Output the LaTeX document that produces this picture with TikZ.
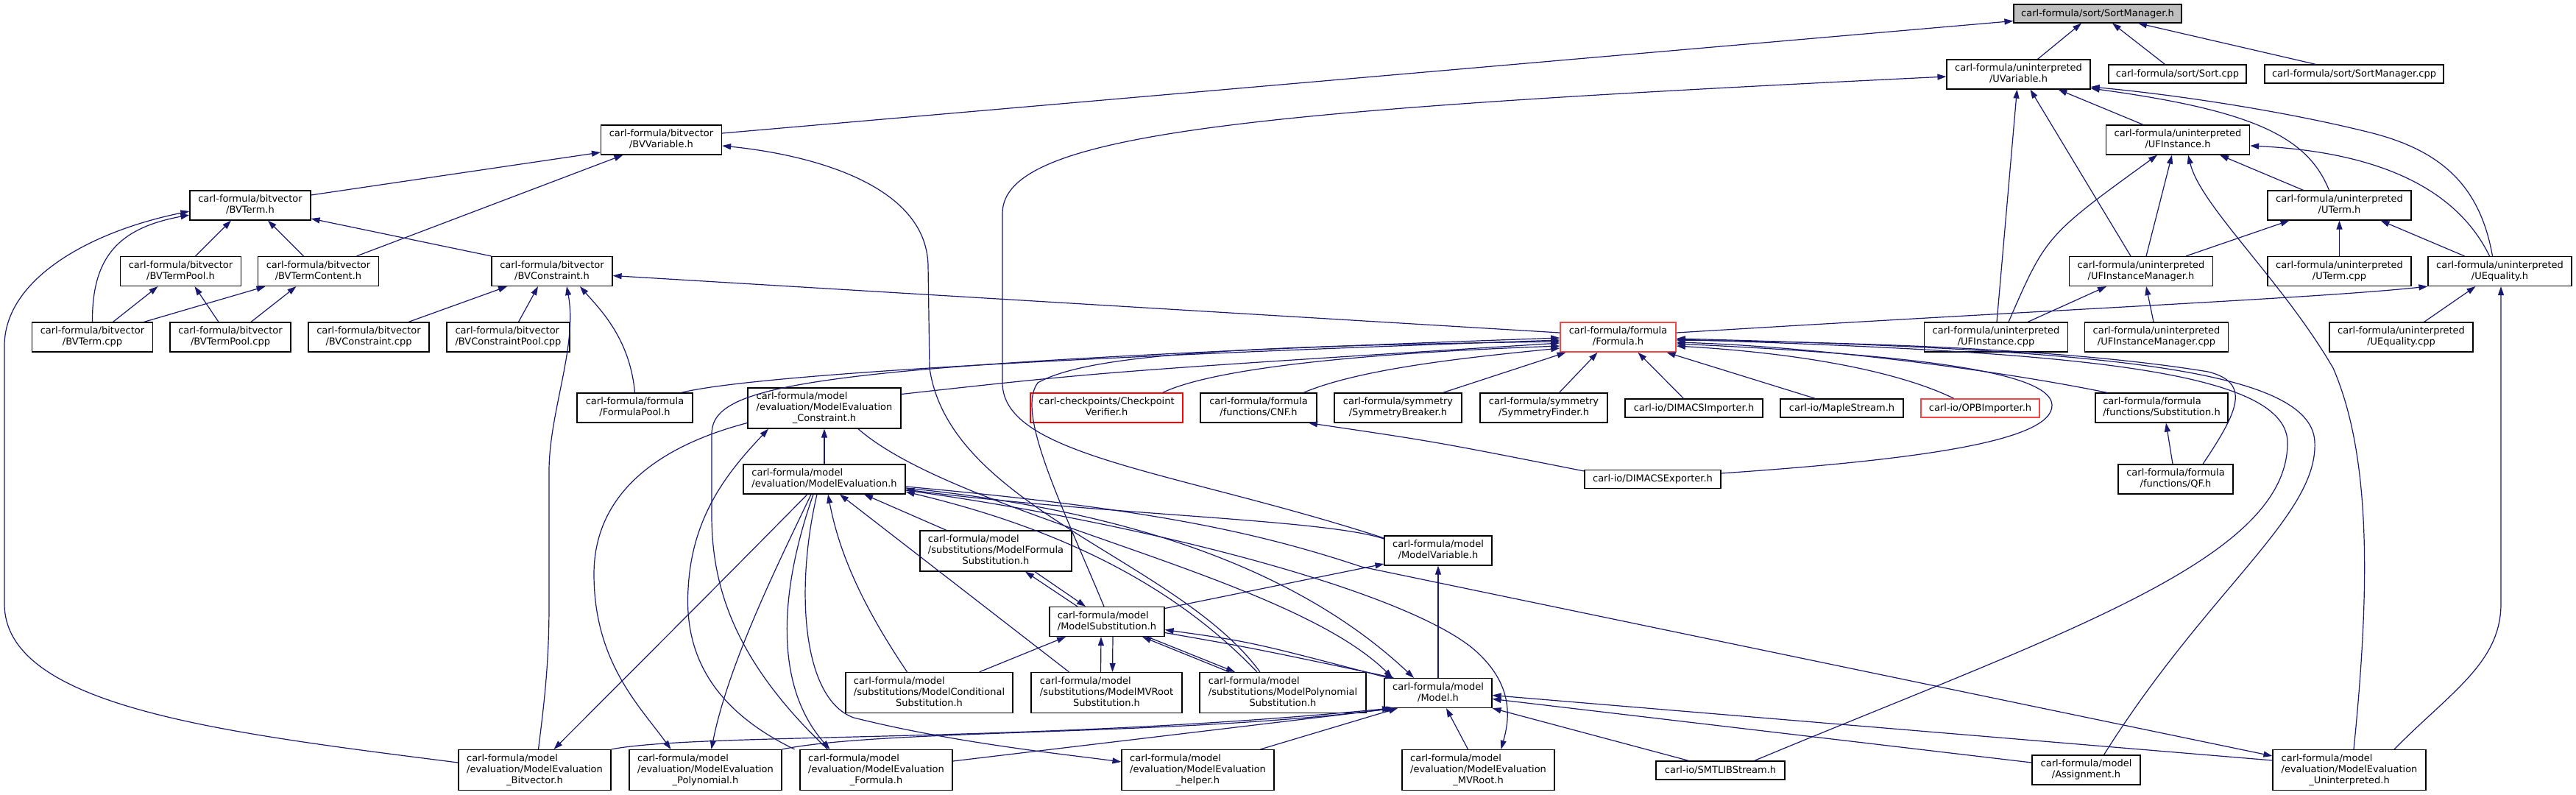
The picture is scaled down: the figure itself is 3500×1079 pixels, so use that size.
\documentclass[tikz,border=0pt]{standalone}
\usepackage{fontspec}
\setmainfont{DejaVu Sans}
\usetikzlibrary{arrows.meta}
\definecolor{edgec}{RGB}{25,25,112}
\definecolor{redc}{RGB}{245,70,70}
\definecolor{grayfill}{RGB}{191,191,191}
\newcommand\nlab[2]{\begin{tabular}{@{}l@{}}#1\\\multicolumn{1}{@{}c@{}}{#2}\end{tabular}}
\begin{document}
\begin{tikzpicture}[x=1pt,y=-1pt,
  box/.style={draw=black, line width=1.2pt, fill=white, inner sep=0pt, align=center, font=\fontsize{13}{15}\selectfont},
  redbox/.style={box, draw=redc, line width=1.6pt},
  e/.style={draw=edgec, line width=1.2pt, -{Triangle[length=12pt,width=8pt]}}]
\fill[white] (0,0) rectangle (3500,1079);
\useasboundingbox (0,0) rectangle (3500,1079);
% ---------- nodes ----------
\node[box, fill=grayfill, minimum width=228, minimum height=25] (SortMgrH) at (2850,18.5) {carl-formula/sort/SortManager.h};
\node[box, minimum width=195, minimum height=40] (UVar) at (2742.5,101) {\nlab{carl-formula/uninterpreted}{/UVariable.h}};
\node[box, minimum width=187, minimum height=25] (SortCpp) at (2958.5,100.5) {carl-formula/sort/Sort.cpp};
\node[box, minimum width=243, minimum height=25] (SortMgrCpp) at (3198.5,100.5) {carl-formula/sort/SortManager.cpp};
\node[box, minimum width=164, minimum height=40] (BVVar) at (898.5,190) {\nlab{carl-formula/bitvector}{/BVVariable.h}};
\node[box, minimum width=195, minimum height=40] (UFInstH) at (2959,190) {\nlab{carl-formula/uninterpreted}{/UFInstance.h}};
\node[box, minimum width=164, minimum height=40] (BVTermH) at (340,279) {\nlab{carl-formula/bitvector}{/BVTerm.h}};
\node[box, minimum width=195, minimum height=40] (UTermH) at (3178.5,279) {\nlab{carl-formula/uninterpreted}{/UTerm.h}};
\node[box, minimum width=164, minimum height=40] (BVTermPoolH) at (245.5,368.5) {\nlab{carl-formula/bitvector}{/BVTermPool.h}};
\node[box, minimum width=164, minimum height=40] (BVTermContentH) at (432.5,368.5) {\nlab{carl-formula/bitvector}{/BVTermContent.h}};
\node[box, minimum width=164, minimum height=40] (BVConsH) at (750,368.5) {\nlab{carl-formula/bitvector}{/BVConstraint.h}};
\node[box, minimum width=195, minimum height=40] (UFIMgrH) at (2909,368.5) {\nlab{carl-formula/uninterpreted}{/UFInstanceManager.h}};
\node[box, minimum width=195, minimum height=40] (UTermCpp) at (3178.5,368.5) {\nlab{carl-formula/uninterpreted}{/UTerm.cpp}};
\node[box, minimum width=195, minimum height=40] (UEqH) at (3396.5,368.5) {\nlab{carl-formula/uninterpreted}{/UEquality.h}};
\node[box, minimum width=164, minimum height=40] (BVTermCpp) at (125.5,458) {\nlab{carl-formula/bitvector}{/BVTerm.cpp}};
\node[box, minimum width=164, minimum height=40] (BVTermPoolCpp) at (313,458) {\nlab{carl-formula/bitvector}{/BVTermPool.cpp}};
\node[box, minimum width=164, minimum height=40] (BVConsCpp) at (501,458) {\nlab{carl-formula/bitvector}{/BVConstraint.cpp}};
\node[box, minimum width=167, minimum height=40] (BVConsPoolCpp) at (690.5,458) {\nlab{carl-formula/bitvector}{/BVConstraintPool.cpp}};
\node[redbox, minimum width=157, minimum height=40] (FormulaH) at (2198.5,458) {\nlab{carl-formula/formula}{/Formula.h}};
\node[box, minimum width=195, minimum height=40] (UFInstCpp) at (2712,458) {\nlab{carl-formula/uninterpreted}{/UFInstance.cpp}};
\node[box, minimum width=195, minimum height=40] (UFIMgrCpp) at (2930,458) {\nlab{carl-formula/uninterpreted}{/UFInstanceManager.cpp}};
\node[box, minimum width=195, minimum height=40] (UEqCpp) at (3262.5,458) {\nlab{carl-formula/uninterpreted}{/UEquality.cpp}};
\node[box, minimum width=157, minimum height=40] (FormulaPool) at (862.5,554) {\nlab{carl-formula/formula}{/FormulaPool.h}};
\node[box, minimum width=208, minimum height=55] (MECons) at (1120,554.5) {\nlab{carl-formula/model\\/evaluation/ModelEvaluation}{\_Constraint.h}};
\node[redbox, draw=red, line width=1.2pt, minimum width=207, minimum height=40] (Checkpoint) at (1503.5,554) {\nlab{carl-checkpoints/Checkpoint}{Verifier.h}};
\node[box, minimum width=158, minimum height=40] (CNF) at (1710,554) {\nlab{carl-formula/formula}{/functions/CNF.h}};
\node[box, minimum width=173, minimum height=40] (SymBreaker) at (1899.5,554) {\nlab{carl-formula/symmetry}{/SymmetryBreaker.h}};
\node[box, minimum width=173, minimum height=40] (SymFinder) at (2097.5,554) {\nlab{carl-formula/symmetry}{/SymmetryFinder.h}};
\node[box, minimum width=187, minimum height=25] (DIMACSImp) at (2301.5,554.5) {carl-io/DIMACSImporter.h};
\node[box, minimum width=167, minimum height=25] (Maple) at (2502.5,554.5) {carl-io/MapleStream.h};
\node[redbox, minimum width=161, minimum height=25] (OPB) at (2690.5,554.5) {carl-io/OPBImporter.h};
\node[box, minimum width=180, minimum height=40] (SubstH) at (2937,554) {\nlab{carl-formula/formula}{/functions/Substitution.h}};
\node[box, minimum width=220, minimum height=40] (MEvalH) at (1120,651) {\nlab{carl-formula/model}{/evaluation/ModelEvaluation.h}};
\node[box, minimum width=185, minimum height=25] (DIMACSExp) at (2245.5,651) {carl-io/DIMACSExporter.h};
\node[box, minimum width=156, minimum height=40] (QF) at (2956,651) {\nlab{carl-formula/formula}{/functions/QF.h}};
\node[box, minimum width=206, minimum height=55] (MFSubst) at (1353,748.5) {\nlab{carl-formula/model\\/substitutions/ModelFormula}{Substitution.h}};
\node[box, minimum width=146, minimum height=40] (ModelVar) at (1954,748) {\nlab{carl-formula/model}{/ModelVariable.h}};
\node[box, minimum width=156, minimum height=40] (MSubst) at (1504,844.5) {\nlab{carl-formula/model}{/ModelSubstitution.h}};
\node[box, minimum width=227, minimum height=55] (MCondSubst) at (1262.5,941) {\nlab{carl-formula/model\\/substitutions/ModelConditional}{Substitution.h}};
\node[box, minimum width=205, minimum height=55] (MMVRootSubst) at (1503.5,941) {\nlab{carl-formula/model\\/substitutions/ModelMVRoot}{Substitution.h}};
\node[box, minimum width=226, minimum height=55] (MPolySubst) at (1743,941) {\nlab{carl-formula/model\\/substitutions/ModelPolynomial}{Substitution.h}};
\node[box, minimum width=146, minimum height=40] (ModelH) at (1954,941.5) {\nlab{carl-formula/model}{/Model.h}};
\node[box, minimum width=207, minimum height=55] (MEBitvector) at (726.5,1046) {\nlab{carl-formula/model\\/evaluation/ModelEvaluation}{\_Bitvector.h}};
\node[box, minimum width=207, minimum height=55] (MEPolynomial) at (958.5,1046) {\nlab{carl-formula/model\\/evaluation/ModelEvaluation}{\_Polynomial.h}};
\node[box, minimum width=207, minimum height=55] (MEFormula) at (1190.5,1046) {\nlab{carl-formula/model\\/evaluation/ModelEvaluation}{\_Formula.h}};
\node[box, minimum width=207, minimum height=55] (MEHelper) at (1627.5,1046) {\nlab{carl-formula/model\\/evaluation/ModelEvaluation}{\_helper.h}};
\node[box, minimum width=207, minimum height=55] (MEMVRoot) at (2008.5,1046) {\nlab{carl-formula/model\\/evaluation/ModelEvaluation}{\_MVRoot.h}};
\node[box, minimum width=175, minimum height=25] (SMTLIB) at (2337.5,1046.5) {carl-io/SMTLIBStream.h};
\node[box, minimum width=147, minimum height=40] (Assignment) at (2834.5,1046) {\nlab{carl-formula/model}{/Assignment.h}};
\node[box, minimum width=208, minimum height=55] (MEUninterp) at (3192,1046) {\nlab{carl-formula/model\\/evaluation/ModelEvaluation}{\_Uninterpreted.h}};
% ---------- edges: includer -> included ----------
\draw[e] ([yshift=9]BVVar.east) -- ([yshift=-10]SortMgrH.west);
\draw[e] ([xshift=26]UVar.north) -- ([xshift=-22]SortMgrH.south);
\draw[e] ([xshift=-17]SortCpp.north) -- ([xshift=20]SortMgrH.south);
\draw[e] ([xshift=-52]SortMgrCpp.north) -- ([xshift=55]SortMgrH.south);
\draw[e] ([yshift=14]BVTermH.east) -- ([yshift=-17]BVVar.west);
\draw[e] ([xshift=52]BVTermContentH.north) -- ([xshift=-52]BVVar.south);
\draw[e] ([xshift=-31]MPolySubst.north) .. controls (1600,760) and (1290,690) .. (1263,500) -- (1261,360) .. controls (1258,250) and (1100,210) .. ([yshift=-8]BVVar.east);
\draw[e] ([xshift=20]BVTermPoolH.north) -- ([xshift=-26]BVTermH.south);
\draw[e] ([xshift=-20]BVTermContentH.north) -- ([xshift=24]BVTermH.south);
\draw[e] (BVConsH.north west) -- ([yshift=-18]BVTermH.east);
\draw[e] (BVTermCpp.north) .. controls (125,350) and (160,310) .. ([yshift=-13]BVTermH.west);
\draw[e] ([yshift=10]MEBitvector.west) .. controls (300,995) and (6,960) .. (6,820) -- (6,470) .. controls (6,380) and (120,315) .. ([yshift=-8]BVTermH.west);
\draw[e] ([xshift=28]BVTermCpp.north) -- ([xshift=-31]BVTermPoolH.south);
\draw[e] ([xshift=-16]BVTermPoolCpp.north) -- ([xshift=19]BVTermPoolH.south);
\draw[e] ([xshift=70]BVTermCpp.north) -- ([xshift=-72]BVTermContentH.south);
\draw[e] ([xshift=28]BVTermPoolCpp.north) -- ([xshift=-30]BVTermContentH.south);
\draw[e] ([xshift=54]BVConsCpp.north) -- ([xshift=-61]BVConsH.south);
\draw[e] ([xshift=14]BVConsPoolCpp.north) -- ([xshift=-19]BVConsH.south);
\draw[e] (FormulaPool.north) .. controls (856,460) and (815,420) .. ([xshift=38]BVConsH.south);
\draw[e] ([xshift=5]MEBitvector.north) .. controls (740,950) and (746,900) .. (746,820) -- (746,640) .. controls (746,560) and (785,470) .. ([xshift=20]BVConsH.south);
\draw[e] ([yshift=6]FormulaH.west) -- ([yshift=-6]BVConsH.east);
\draw[e] ([xshift=-47]UFInstH.north) -- ([xshift=54]UVar.south);
\draw[e] ([xshift=-14]UTermH.north) .. controls (3135,185) and (3060,150) .. ([yshift=-19]UVar.east);
\draw[e] ([xshift=-10]UEqH.north) .. controls (3370,255) and (3320,205) .. (3220,180) .. controls (3100,150) and (2950,128) .. ([yshift=-17]UVar.east);
\draw[e] ([xshift=-14]UFIMgrH.north) -- ([xshift=16]UVar.south);
\draw[e] ([xshift=1]UFInstCpp.north) -- ([xshift=-2]UVar.south);
\draw[e] ([yshift=17]ModelVar.west) .. controls (1600,640) and (1362,620) .. (1362,520) -- (1362,290) .. controls (1362,180) and (1700,150) .. ([yshift=-3]UVar.west);
\draw[e] ([xshift=-49]UTermH.north) -- ([xshift=57]UFInstH.south);
\draw[e] ([xshift=7]UFIMgrH.north) -- ([xshift=-8]UFInstH.south);
\draw[e] ([xshift=17]UFInstCpp.north) .. controls (2780,320) .. ([xshift=-28]UFInstH.south);
\draw[e] ([xshift=-14]UEqH.north) .. controls (3330,240) and (3200,205) .. ([yshift=-8]UFInstH.east);
\draw[e] ([xshift=6]MEUninterp.north) .. controls (3220,800) and (3222,620) .. (3170,500) .. controls (3100,380) and (2990,280) .. ([xshift=14]UFInstH.south);
\draw[e] ([xshift=61]UFIMgrH.north) -- ([xshift=-68]UTermH.south);
\draw[e] (UTermCpp.north) -- (UTermH.south);
\draw[e] ([xshift=-48]UEqH.north) -- ([xshift=56]UTermH.south);
\draw[e] ([xshift=43]UFInstCpp.north) -- ([xshift=-47]UFIMgrH.south);
\draw[e] ([xshift=-4]UFIMgrCpp.north) -- ([xshift=7]UFIMgrH.south);
\draw[e] ([xshift=31]UEqCpp.north) -- ([xshift=-33]UEqH.south);
\draw[e] ([xshift=61]MEUninterp.north) .. controls (3330,940) and (3398,900) .. (3398,820) -- ([xshift=1.5]UEqH.south);
\draw[e] ([yshift=6]FormulaH.east) .. controls (2800,420) and (3150,405) .. (UEqH.south west);
% into Formula.h
\draw[e] ([xshift=63]FormulaPool.north) .. controls (1000,515) and (1300,490) .. ([yshift=-4]FormulaH.west);
\draw[e] ([yshift=19]MECons.east) .. controls (1500,505) .. ([yshift=-8]FormulaH.west);
\draw[e] ([xshift=-66]MEFormula.north) .. controls (1000,900) and (967,800) .. (967,700) -- (967,590) .. controls (967,520) and (1100,495) .. ([yshift=-1]FormulaH.west);
\draw[e] ([xshift=-4]MSubst.north) .. controls (1440,680) and (1380,560) .. (1410,520) .. controls (1480,480) and (1700,470) .. ([yshift=-6]FormulaH.west);
\draw[e] ([xshift=76]Checkpoint.north) .. controls (1650,500) and (1850,480) .. ([yshift=-12]FormulaH.west);
\draw[e] ([xshift=61]CNF.north) .. controls (1850,500) and (2000,485) .. ([yshift=-15]FormulaH.west);
\draw[e] ([xshift=61]SymBreaker.north) -- ([xshift=-71]FormulaH.south);
\draw[e] ([xshift=21]SymFinder.north) -- ([xshift=-28]FormulaH.south);
\draw[e] ([xshift=-14]DIMACSImp.north) -- ([xshift=27]FormulaH.south);
\draw[e] ([xshift=-36]Maple.north) -- ([xshift=66]FormulaH.south);
\draw[e] ([xshift=-36]OPB.north) .. controls (2580,505) and (2450,480) .. ([yshift=-12]FormulaH.east);
\draw[e] ([yshift=8]DIMACSExp.east) .. controls (2600,625) and (2790,600) .. (2788,550) .. controls (2786,505) and (2600,482) .. ([yshift=-9]FormulaH.east);
\draw[e] ([xshift=-74]SubstH.north) .. controls (2700,500) and (2450,470) .. ([yshift=-7]FormulaH.east);
\draw[e] ([xshift=37]QF.north) .. controls (3040,560) and (3060,520) .. (3000,505) .. controls (2800,472) and (2500,465) .. ([yshift=-4]FormulaH.east);
\draw[e] ([xshift=46]SMTLIB.north) .. controls (2800,860) and (3110,760) .. (3108,600) .. controls (3105,500) and (2800,478) .. ([yshift=-3]FormulaH.east);
\draw[e] ([xshift=24]Assignment.north) .. controls (3000,800) and (3150,700) .. (3145,600) .. controls (3140,500) and (2850,475) .. ([yshift=-2]FormulaH.east);
\draw[e] ([yshift=11]DIMACSExp.west) .. controls (1950,600) .. ([xshift=68]CNF.south);
\draw[e] ([xshift=-4]QF.north) -- ([xshift=6]SubstH.south);
% model / evaluation cluster
\draw[e] (MEvalH.north) -- (MECons.south);
\draw[e] ([yshift=-20]MECons.west) .. controls (880,610) and (807,680) .. (807,780) .. controls (807,900) and (870,960) .. ([xshift=-47]MEPolynomial.north);
\draw[e] ([xshift=-111]MEFormula.north) .. controls (960,960) and (930,880) .. (935,800) .. controls (940,700) and (990,640) .. ([xshift=-76]MECons.south);
\draw[e] ([xshift=46]MECons.south) .. controls (1300,700) and (1750,780) .. ([xshift=-62]ModelH.north);
\draw[e] ([xshift=-23]MEvalH.south) .. controls (980,790) .. ([xshift=26]MEBitvector.north);
\draw[e] ([xshift=-18]MEvalH.south) .. controls (1060,760) and (990,900) .. ([xshift=8]MEPolynomial.north);
\draw[e] ([xshift=-15]MEvalH.south) .. controls (1060,800) and (1050,930) .. ([xshift=-63]MEFormula.north);
\draw[e] ([xshift=-10]MEvalH.south) .. controls (1080,800) and (1090,950) .. (1160,975) .. controls (1300,1010) and (1450,1025) .. ([yshift=11]MEHelper.west);
\draw[e] ([xshift=-30]MCondSubst.north) .. controls (1170,820) and (1140,750) .. ([xshift=5]MEvalH.south);
\draw[e] ([xshift=-51]MMVRootSubst.north) -- ([xshift=21]MEvalH.south);
\draw[e] ([xshift=-67]MFSubst.north) -- ([xshift=54]MEvalH.south);
\draw[e] ([xshift=-35]MPolySubst.north) .. controls (1600,800) and (1450,720) .. ([yshift=-17]MEvalH.east);
\draw[e] ([yshift=16]ModelVar.west) .. controls (1800,705) and (1500,700) .. ([yshift=-14]MEvalH.east);
\draw[e] ([yshift=-12]MEvalH.east) .. controls (1500,690) and (1750,760) .. ([xshift=-33]ModelH.north);
\draw[e] ([yshift=-10]MEvalH.east) .. controls (1550,690) and (1700,720) .. (1850,770) -- ([yshift=19]MEUninterp.west);
\draw[e] ([yshift=-15]MEvalH.east) .. controls (1550,710) and (1900,800) .. (2000,880) .. controls (2060,930) and (2050,980) .. ([xshift=31]MEMVRoot.north);
\draw[e] ([xshift=-40]MSubst.north) -- ([xshift=40]MFSubst.south);
\draw[e] ([xshift=53]MFSubst.south) -- ([xshift=-29]MSubst.north);
\draw[e] ([xshift=68]MCondSubst.north) -- ([xshift=-56]MSubst.south);
\draw[e] ([xshift=-8]MMVRootSubst.north) -- ([xshift=-8]MSubst.south);
\draw[e] ([xshift=8]MSubst.south) -- ([xshift=8]MMVRootSubst.north);
\draw[e] ([xshift=-73]MPolySubst.north) -- ([xshift=48]MSubst.south);
\draw[e] ([xshift=55]MSubst.south) -- ([xshift=-65]MPolySubst.north);
\draw[e] ([yshift=18]MSubst.east) -- ([yshift=-18]ModelVar.west);
\draw[e] (ModelH.north) -- (ModelVar.south);
\draw[e] ([yshift=-15]MSubst.east) .. controls (1700,880) .. ([xshift=-60]ModelH.north);
\draw[e] ([xshift=-68]ModelH.north) .. controls (1700,872) .. ([yshift=-11]MSubst.east);
\draw[e] ([yshift=12]MEFormula.east) -- ([xshift=-58]ModelH.south);
\draw[e] (MEBitvector.north east) .. controls (950,995) and (1400,1010) .. ([xshift=-64]ModelH.south);
\draw[e] (MEPolynomial.north east) .. controls (1200,990) and (1600,1000) .. ([xshift=-61]ModelH.south);
\draw[e] ([xshift=85]MEHelper.north) -- ([xshift=-55]ModelH.south);
\draw[e] ([xshift=-14]MEMVRoot.north) -- ([xshift=11]ModelH.south);
\draw[e] ([xshift=-43]SMTLIB.north) -- (ModelH.south east);
\draw[e] ([yshift=10]Assignment.west) -- ([yshift=-8]ModelH.east);
\draw[e] ([yshift=13]MEUninterp.west) -- ([yshift=-3]ModelH.east);
\end{tikzpicture}
\end{document}
